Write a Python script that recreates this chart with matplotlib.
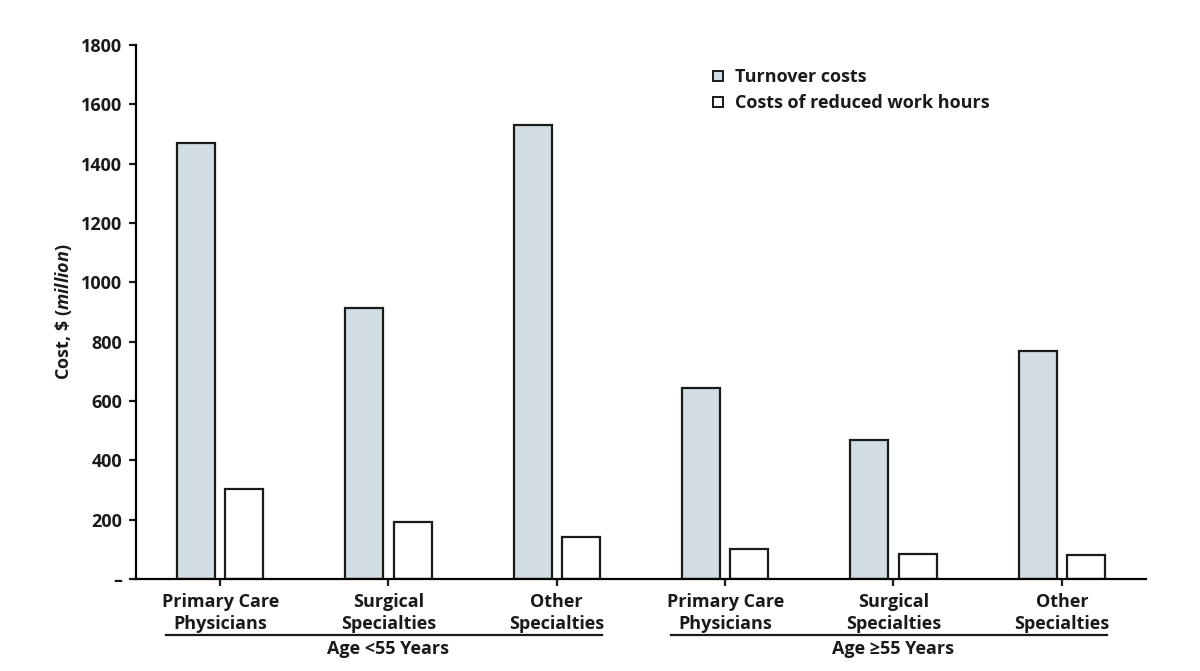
import matplotlib.pyplot as plt
import matplotlib
from matplotlib.lines import Line2D
import numpy as np

matplotlib.rcParams['font.family'] = ['Open Sans', 'DejaVu Sans']
matplotlib.rcParams['font.weight'] = 'bold'
matplotlib.rcParams['mathtext.fontset'] = 'custom'
matplotlib.rcParams['mathtext.it'] = 'Open Sans:italic:bold'
matplotlib.rcParams['mathtext.rm'] = 'Open Sans:bold'

categories = ['Primary Care\nPhysicians', 'Surgical\nSpecialties', 'Other\nSpecialties',
              'Primary Care\nPhysicians', 'Surgical\nSpecialties', 'Other\nSpecialties']
groups = ['Age <55 Years', 'Age \u226555 Years']
turnover = [1470, 913, 1530, 644, 468, 768]
reduced_hours = [303, 192, 142, 101, 84, 81]
yticks = [0, 200, 400, 600, 800, 1000, 1200, 1400, 1600, 1800]
ytick_labels = ['\u2013', '200', '400', '600', '800', '1000', '1200', '1400', '1600', '1800']

GRAY = '#d1dde3'
INK = '#1a1a1a'
W = 0.226
OFF = 0.143

fig = plt.figure(figsize=(12, 6.71), dpi=100)
ax = fig.add_axes([0.1133, 0.1371, 0.8417, 0.7959])

x = np.arange(len(categories))
ax.bar(x - OFF, turnover, W, color=GRAY, edgecolor=INK, linewidth=1.6)
ax.bar(x + OFF, reduced_hours, W, color='white', edgecolor=INK, linewidth=1.6)

ax.set_xlim(-0.5, 5.5)
ax.set_ylim(0, 1800)
ax.spines['top'].set_visible(False)
ax.spines['right'].set_visible(False)
ax.spines['left'].set_linewidth(1.6)
ax.spines['bottom'].set_linewidth(1.6)

ax.set_yticks(yticks)
ax.set_yticklabels(ytick_labels)
ax.set_xticks(x)
ax.set_xticklabels(categories, linespacing=1.3)
ax.tick_params(axis='y', length=5, width=1.6, labelsize=13, pad=5, colors=INK)
ax.tick_params(axis='x', length=5, width=1.6, labelsize=13, pad=5, colors=INK)

ax.set_ylabel(r'Cost, \$ $\mathit{(million)}$', fontsize=13, fontweight='bold',
              labelpad=5, color=INK)

# group underlines and labels
for i, g in enumerate(groups):
    x0 = i * 3 - 0.32
    x1 = i * 3 + 2.27
    ax.plot([x0, x1], [-188, -188], color=INK, lw=1.6, clip_on=False)
    ax.text(i * 3 + 1, -236, g, ha='center', va='center', fontsize=13, color=INK)

handles = [Line2D([], [], marker='s', linestyle='none', markersize=7.5, markerfacecolor=GRAY,
                  markeredgecolor=INK, markeredgewidth=1.4),
           Line2D([], [], marker='s', linestyle='none', markersize=7.5, markerfacecolor='white',
                  markeredgecolor=INK, markeredgewidth=1.4)]
leg = ax.legend(handles, ['Turnover costs', 'Costs of reduced work hours'],
                loc='upper left', bbox_to_anchor=(0.556, 0.984), frameon=False,
                handlelength=0.7, handletextpad=0.6, labelspacing=0.45, fontsize=13,
                borderpad=0.3)
for t in leg.get_texts():
    t.set_color(INK)

fig.savefig('out.png', dpi=100)
